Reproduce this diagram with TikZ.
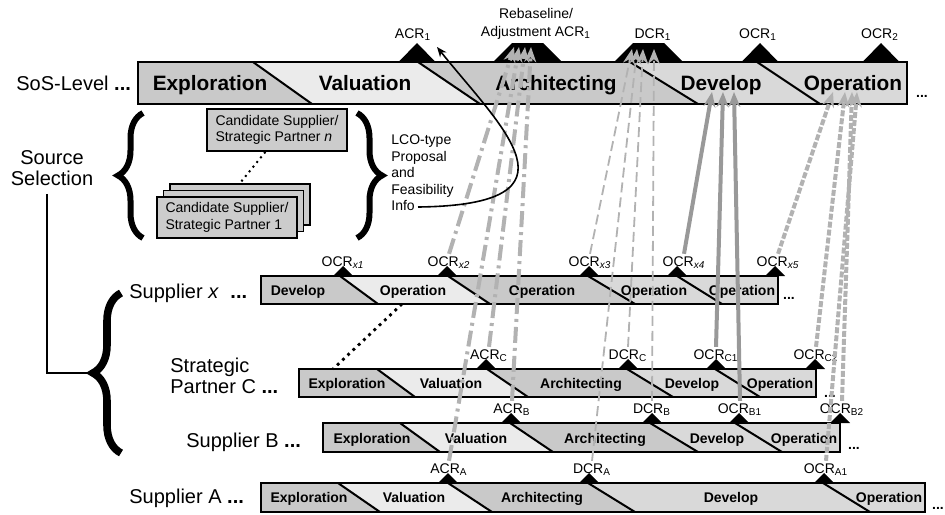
\documentclass[tikz,border=0pt]{standalone}
\usepackage{fontspec}
\setmainfont{Liberation Sans}
\usetikzlibrary{arrows.meta,decorations.pathreplacing}

\definecolor{phdark}{gray}{0.79}
\definecolor{phmid}{gray}{0.85}
\definecolor{phlight}{gray}{0.92}
\definecolor{boxgray}{gray}{0.80}
\definecolor{linkgray}{gray}{0.70}
\definecolor{solidgray}{gray}{0.60}

\tikzset{
  bar/.style={draw=black, line width=1pt},
  phaseline/.style={draw=black, line width=1pt},
  sosphase/.style={font=\fontsize{10.4}{12}\selectfont\bfseries, inner sep=0pt, anchor=base},
  supphase/.style={font=\fontsize{7}{8}\selectfont\bfseries, inner sep=0pt, anchor=base},
  level/.style={font=\fontsize{10}{10.5}\selectfont, inner sep=0pt, align=left},
  ms/.style={font=\fontsize{7}{8}\selectfont, anchor=base, inner sep=1pt},
  tail/.style={font=\fontsize{7}{8}\selectfont\bfseries, inner sep=0pt},
  cand/.style={draw=black, line width=0.9pt, fill=boxgray, minimum width=70pt,
    minimum height=21pt, align=left, font=\fontsize{7}{8.2}\selectfont, inner sep=1pt},
  bigbrace/.style={decorate, decoration={brace, amplitude=14pt}, line width=3.8pt},
  candbrace/.style={decorate, decoration={brace, amplitude=12.5pt}, line width=3pt},
  tipx/.style={-{Stealth[length=7.5pt,width=6pt]}},
  acrlink/.style={tipx, draw=linkgray, line width=2pt, dash pattern=on 8pt off 2.5pt on 1.5pt off 2.5pt},
  dcrlink/.style={tipx, draw=linkgray, line width=0.9pt, dash pattern=on 5pt off 2.5pt},
  devlink/.style={tipx, draw=solidgray, line width=2pt},
  oplink/.style={tipx, draw=linkgray, line width=2pt, dash pattern=on 3pt off 1pt},
  infolink/.style={draw=black, line width=0.8pt, -{Stealth[length=5pt,width=4pt]}},
  dotlink/.style={draw=black, line width=1.4pt, dash pattern=on 1.4pt off 2.2pt},
}

\begin{document}
\begin{tikzpicture}[x=0.5pt, y=-0.5pt]
  \useasboundingbox (0,0) rectangle (945,514);

  % SoS level bar
  \foreach \lt/\rt/\rb/\lb/\col/\tx/\txt [count=\i] in {
      138/253/312/138/phdark/210/Exploration,
      253/418/480/312/phlight/365/Valuation,
      418/630/698/480/phdark/556/Architecting,
      630/757/820/698/phmid/721/Develop,
      757/907/907/820/phmid/853/Operation}
  {
    \fill[\col] (\lt,62) -- (\rt,62) -- (\rb,104) -- (\lb,104) -- cycle;
    \node[sosphase] (sos-\i) at (\tx,90.5) {\txt};
  }
  \foreach \t/\b in {253/312,418/480,630/698,757/820}
    \draw[phaseline] (\t,62) -- (\b,104);
  \draw[bar] (138,62) rectangle (907,104);
  \node[tail] (sos-dots) at (922,96) {...};

  \fill (417,62) ++(-18.5,0) -- ++(18.5,-19) -- ++(18.5,19) -- cycle;
  \fill (760,62) ++(-18.5,0) -- ++(18.5,-19) -- ++(18.5,19) -- cycle;
  \fill (881,62) ++(-18.5,0) -- ++(18.5,-19) -- ++(18.5,19) -- cycle;
  \fill (493,62) -- (512,43) -- (543,43) -- (562,62) -- cycle;
  \fill (614,62) -- (633,43) -- (664,43) -- (683,62) -- cycle;

  \node[ms] (acr1) at (413,38) {ACR\textsubscript{1}};
  \node[ms, anchor=center, align=center, inner sep=0pt,
    font=\fontsize{7}{9}\selectfont] (rebase) at (536,24) {Rebaseline/\\Adjustment ACR\textsubscript{1}};
  \node[ms] (dcr1) at (653,38) {DCR\textsubscript{1}};
  \node[ms] (ocr1) at (758,38) {OCR\textsubscript{1}};
  \node[ms] (ocr2) at (880,38) {OCR\textsubscript{2}};

  % supplier x
  \foreach \lt/\rt/\rb/\lb/\col/\tx/\txt [count=\i] in {
      261/340/378/261/phdark/298/Develop,
      340/448/490/378/phlight/413/Operation,
      448/588/635/490/phdark/542/Operation,
      588/677/722/635/phmid/654/Operation,
      677/778/778/722/phmid/742/Operation}
  {
    \fill[\col] (\lt,276) -- (\rt,276) -- (\rb,304) -- (\lb,304) -- cycle;
    \node[supphase] (supx-\i) at (\tx,295.5) {\txt};
  }
  \foreach \t/\b in {340/378,448/490,588/635,677/722}
    \draw[phaseline] (\t,276) -- (\b,304);
  \draw[bar] (261,276) rectangle (778,304);
  \node[tail] (supx-dots) at (789,298) {...};
  \foreach \m in {343,447,589,677,775}
    \fill (\m,276) ++(-10,0) -- ++(10,-10) -- ++(10,10) -- cycle;

  \node[ms] (ocrx1) at (343,266) {OCR\textsubscript{\itshape x1}};
  \node[ms] (ocrx2) at (449,266) {OCR\textsubscript{\itshape x2}};
  \node[ms] (ocrx3) at (590,266) {OCR\textsubscript{\itshape x3}};
  \node[ms] (ocrx4) at (684,266) {OCR\textsubscript{\itshape x4}};
  \node[ms] (ocrx5) at (778,266) {OCR\textsubscript{\itshape x5}};

  % strategic partner C
  \foreach \lt/\rt/\rb/\lb/\col/\tx/\txt [count=\i] in {
      299/377/415/299/phdark/347/Exploration,
      377/487/528/415/phlight/451/Valuation,
      487/627/673/528/phdark/581/Architecting,
      627/715/760/673/phmid/692/Develop,
      715/816/816/760/phmid/780/Operation}
  {
    \fill[\col] (\lt,369) -- (\rt,369) -- (\rb,397) -- (\lb,397) -- cycle;
    \node[supphase] (spc-\i) at (\tx,388.5) {\txt};
  }
  \foreach \t/\b in {377/415,487/528,627/673,715/760}
    \draw[phaseline] (\t,369) -- (\b,397);
  \draw[bar] (299,369) rectangle (816,397);
  \node[tail] (spc-dots) at (830,396) {...};
  \foreach \m in {486,628,716,815}
    \fill (\m,369) ++(-10,0) -- ++(10,-10) -- ++(10,10) -- cycle;

  \node[ms] (acrc) at (489,359) {ACR\textsubscript{C}};
  \node[ms] (dcrc) at (628,359) {DCR\textsubscript{C}};
  \node[ms] (ocrc1) at (716,359) {OCR\textsubscript{C1}};
  \node[ms] (ocrc2) at (816,359) {OCR\textsubscript{C2}};

  % supplier B
  \foreach \lt/\rt/\rb/\lb/\col/\tx/\txt [count=\i] in {
      323/400/440/323/phdark/372/Exploration,
      400/510/553/440/phlight/476/Valuation,
      510/650/698/553/phdark/605/Architecting,
      650/735/782/698/phmid/717/Develop,
      735/840/840/782/phmid/804/Operation}
  {
    \fill[\col] (\lt,423) -- (\rt,423) -- (\rb,452) -- (\lb,452) -- cycle;
    \node[supphase] (supb-\i) at (\tx,443) {\txt};
  }
  \foreach \t/\b in {400/440,510/553,650/698,735/782}
    \draw[phaseline] (\t,423) -- (\b,452);
  \draw[bar] (323,423) rectangle (840,452);
  \node[tail] (supb-dots) at (854,448) {...};
  \foreach \m in {511,652,739,840}
    \fill (\m,423) ++(-10,0) -- ++(10,-10) -- ++(10,10) -- cycle;

  \node[ms] (acrb) at (512,413) {ACR\textsubscript{B}};
  \node[ms] (dcrb) at (652,413) {DCR\textsubscript{B}};
  \node[ms] (ocrb1) at (740,413) {OCR\textsubscript{B1}};
  \node[ms] (ocrb2) at (842,413) {OCR\textsubscript{B2}};

  % supplier A
  \foreach \lt/\rt/\rb/\lb/\col/\tx/\txt [count=\i] in {
      261/338/380/261/phdark/309/Exploration,
      338/448/492/380/phlight/414/Valuation,
      448/588/635/492/phdark/542/Architecting,
      588/823/870/635/phmid/731/Develop,
      823/925/925/870/phmid/889/Operation}
  {
    \fill[\col] (\lt,483) -- (\rt,483) -- (\rb,512) -- (\lb,512) -- cycle;
    \node[supphase] (supa-\i) at (\tx,502.5) {\txt};
  }
  \foreach \t/\b in {338/380,448/492,588/635,823/870}
    \draw[phaseline] (\t,483) -- (\b,512);
  \draw[bar] (261,483) rectangle (925,512);
  \node[tail] (supa-dots) at (938,508) {...};
  \foreach \m in {448,589,824}
    \fill (\m,483) ++(-10,0) -- ++(10,-10) -- ++(10,10) -- cycle;

  \node[ms] (acra) at (449,473) {ACR\textsubscript{A}};
  \node[ms] (dcra) at (592,473) {DCR\textsubscript{A}};
  \node[ms] (ocra1) at (826,473) {OCR\textsubscript{A1}};

  % level names
  \node[level, anchor=west] (soslevel) at (16,83) {SoS-Level \textbf{...}};
  \node[level, align=center, inner sep=4pt] (srcsel) at (52,168) {Source\\Selection};
  \node[level, anchor=west] (supx) at (129,293) {Supplier \textit{x}\ \hspace{0.3em}\textbf{...}};
  \node[level, anchor=west] (partc) at (170,376) {Strategic\\Partner C \textbf{...}};
  \node[level, anchor=west] (supb) at (186,442) {Supplier B \textbf{...}};
  \node[level, anchor=west] (supa) at (129,498) {Supplier A \textbf{...}};

  % source selection
  \node[cand] (boxn) at (277,130) {Candidate Supplier/\\Strategic Partner \textit{n}};
  \node[cand, minimum height=20.5pt] (back) at (240,204.5) {\phantom{Candidate Supplier/}};
  \node[cand, minimum height=20.5pt] (mid) at (233.5,211) {\phantom{Candidate Supplier/}};
  \node[cand, minimum height=20.5pt] (box1) at (227,217.5) {Candidate Supplier/\\Strategic Partner 1};
  \draw[black, line width=1pt, dotted] (boxn.-118) -- (back.north);

  \draw[candbrace] (143,238) -- (143,113);
  \draw[candbrace] (357,113) -- (357,238);

  \node[font=\fontsize{7}{8.25}\selectfont, align=left, anchor=west, inner sep=0pt]
    (lco) at (391,173) {LCO-type\\Proposal\\and\\Feasibility\\Info};
  \coordinate (infoend) at (418,207);
  \coordinate (acr1tip) at (437,47);

  \coordinate (bracetip) at (93,373);
  \draw[bigbrace] (121,453) -- (121,293);
  \draw[black, line width=1pt] ([xshift=-2.5pt]srcsel.south) |- (bracetip);

  \coordinate (supxop) at (402,304);
  \coordinate (spcexp) at (333,369);
  \draw[dotlink] (supxop) -- (spcexp);

  % milestone links
  \coordinate (rb1) at (514,47);
  \coordinate (rb2) at (519,47);
  \coordinate (rb3) at (525,47);
  \coordinate (rb4) at (531,47);
  \coordinate (dc1) at (632,49);
  \coordinate (dc2) at (637,49);
  \coordinate (dc3) at (643,49);
  \coordinate (dc4) at (654,49);
  \coordinate (dv1) at (712,92);
  \coordinate (dv2) at (723,92);
  \coordinate (dv3) at (734,92);
  \coordinate (op1) at (833,92);
  \coordinate (op2) at (845,92);
  \coordinate (op3) at (852,92);
  \coordinate (op4) at (857,92);

  \draw[acrlink] (ocrx2.north) -- (rb1);
  \draw[acrlink] (acra.north) -- (rb2);
  \draw[acrlink] (acrc.north) -- (rb3);
  \draw[acrlink] (acrb.north) -- (rb4);

  \draw[dcrlink] (ocrx3.north) -- (dc1);
  \draw[dcrlink] (dcra.north) -- (dc2);
  \draw[dcrlink] (dcrc.north) -- (dc3);
  \draw[dcrlink] (dcrb.north) -- (dc4);

  \draw[devlink] (ocrx4.north) -- (dv1);
  \draw[devlink] (ocrc1.north) -- (dv2);
  \draw[devlink] (ocrb1.north) -- (dv3);

  \draw[oplink] (ocrx5.north) -- (op1);
  \draw[oplink] (ocrc2.north) -- (op2);
  \draw[oplink] (ocrb2.north) -- (op3);
  \draw[oplink] (ocra1.north) -- (op4);

  \draw[infolink] (infoend) .. controls (590,205) and (501,127) .. (acr1tip);
\end{tikzpicture}
\end{document}
